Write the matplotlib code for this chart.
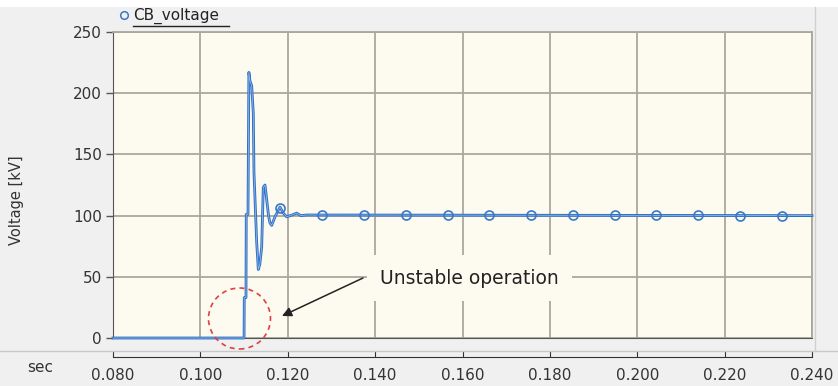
import matplotlib
matplotlib.use("Agg")
import matplotlib.pyplot as plt
import numpy as np
from matplotlib.patches import Ellipse, Rectangle
from matplotlib.lines import Line2D

# ---- data ----
time_s = [0.080, 0.1100, 0.11005, 0.11044, 0.11050, 0.11090, 0.11110, 0.11136,
          0.11175, 0.11211, 0.11227, 0.11289, 0.11326, 0.11360, 0.11403, 0.11440,
          0.11479, 0.11518, 0.11560, 0.11593, 0.11632, 0.11708, 0.11822, 0.11898,
          0.11976, 0.12100, 0.12205, 0.12300, 0.12433, 0.240]
voltage_kv = [0, 0, 33, 33, 101, 101, 217, 210,
              206, 184, 135, 78, 56, 60, 74, 123,
              125, 113, 100, 94, 92, 99, 107, 102,
              99, 100.5, 102, 100, 100.5, 100]
marker_times = [0.1183, 0.1279, 0.1374, 0.1470, 0.1566, 0.1661, 0.1757,
                0.1853, 0.1949, 0.2044, 0.2140, 0.2236, 0.2331]
x_ticks = [0.080, 0.100, 0.120, 0.140, 0.160, 0.180, 0.200, 0.220, 0.240]
x_tick_labels = ["0.080", "0.100", "0.120", "0.140", "0.160", "0.180", "0.200", "0.220", "0.240"]
y_ticks = [0, 50, 100, 150, 200, 250]
series_name = "CB_voltage"
annotation_text = "Unstable operation"

W, H = 838, 386
fig = plt.figure(figsize=(W / 100, H / 100), dpi=100, facecolor="#f0f0f0")

def fx(px):
    return px / W

def fy(py):
    return 1 - py / H

# top white strip and frame lines
fig.patches.append(Rectangle((0, fy(7)), 1, 1 - fy(7), transform=fig.transFigure,
                             facecolor="white", edgecolor="none", zorder=0))
fig.add_artist(Line2D([0, 1], [fy(351), fy(351)], transform=fig.transFigure,
                      color="#c8c8c8", lw=1))
fig.add_artist(Line2D([fx(815), fx(815)], [fy(7), fy(351)], transform=fig.transFigure,
                      color="#d0d0d0", lw=1))

ax = fig.add_axes([fx(113), fy(338), fx(812) - fx(113), fy(32) - fy(338)])
ax.set_facecolor("#fdfaf0")
ax.set_xlim(0.080, 0.240)
ax.set_ylim(0, 250)
ax.set_xticks(x_ticks)
ax.set_yticks(y_ticks)
ax.tick_params(axis="x", length=0, labelbottom=False)
ax.tick_params(axis="y", length=5, width=1, color="#555555", labelsize=11,
               labelcolor="#333333", pad=3)
ax.grid(True, color="#aaa79b", lw=1.3)
ax.set_axisbelow(True)
for s in ["top", "right"]:
    ax.spines[s].set_color("#aaa79b")
    ax.spines[s].set_linewidth(1.3)
ax.spines["left"].set_color("#555555")
ax.spines["bottom"].set_color("#555555")
fig.text(fx(17), fy(200), "Voltage [kV]", rotation=90, fontsize=10.5,
         color="#333333", va="center", ha="center")

# trace (outlined look)
ax.plot(time_s, voltage_kv, color="#2f6fc4", lw=2.0, zorder=3, clip_on=False)
ax.plot(time_s, voltage_kv, color="#8db8ea", lw=0.6, zorder=4, clip_on=False)
marker_vals = np.interp(marker_times, time_s, voltage_kv)
ax.plot(marker_times, marker_vals, ls="none", marker="o", ms=6.5, mfc="none",
        mec="#3a78c8", mew=1.2, zorder=5)

# dashed red circle
ax.add_patch(Ellipse((0.08 + (239.5 - 113) / 4369, (338 - 318.5) / 1.224),
                     width=62 / 4369, height=61 / 1.224, fill=False,
                     edgecolor="#e04040", ls=(0, (3, 2.5)), lw=1.2, clip_on=False, zorder=6))

# annotation text and arrow
ax.text(0.08 + (380 - 113) / 4369, (338 - 278) / 1.224, annotation_text,
        fontsize=13.5, color="#222222", va="center", ha="left", zorder=7,
        bbox=dict(boxstyle="square,pad=0.7", fc="#fdfaf0", ec="none"))
ax.annotate("", xy=(0.08 + (282 - 113) / 4369, (338 - 316) / 1.224),
            xytext=(0.08 + (363 - 113) / 4369, (338 - 278) / 1.224),
            arrowprops=dict(arrowstyle="-|>", color="#222222", lw=1.1,
                            mutation_scale=14, shrinkA=0, shrinkB=0),
            zorder=8)

# legend in header band
fig.add_artist(Line2D([fx(124)], [fy(15)], transform=fig.transFigure, marker="o",
                      ms=5.5, mfc="none", mec="#3a78c8", mew=1.1, ls="none"))
fig.text(fx(133), fy(16), series_name, fontsize=11, color="#222222", va="center", ha="left")
fig.add_artist(Line2D([fx(133), fx(229)], [fy(26), fy(26)], transform=fig.transFigure,
                      color="#222222", lw=1))

# separate time axis
ax2 = fig.add_axes([fx(113), fy(357), fx(812) - fx(113), 0.0001])
ax2.set_xlim(0.080, 0.240)
ax2.set_xticks(x_ticks)
ax2.set_xticklabels(x_tick_labels)
ax2.set_yticks([])
ax2.patch.set_visible(False)
for s in ["top", "left", "right"]:
    ax2.spines[s].set_visible(False)
ax2.spines["bottom"].set_color("#333333")
ax2.tick_params(axis="x", direction="in", length=4, color="#333333", labelsize=11,
                labelcolor="#333333", pad=8)
fig.text(fx(40), fy(368), "sec", fontsize=11, color="#333333", va="center", ha="center")

fig.savefig("out.png", dpi=100, facecolor=fig.get_facecolor())
